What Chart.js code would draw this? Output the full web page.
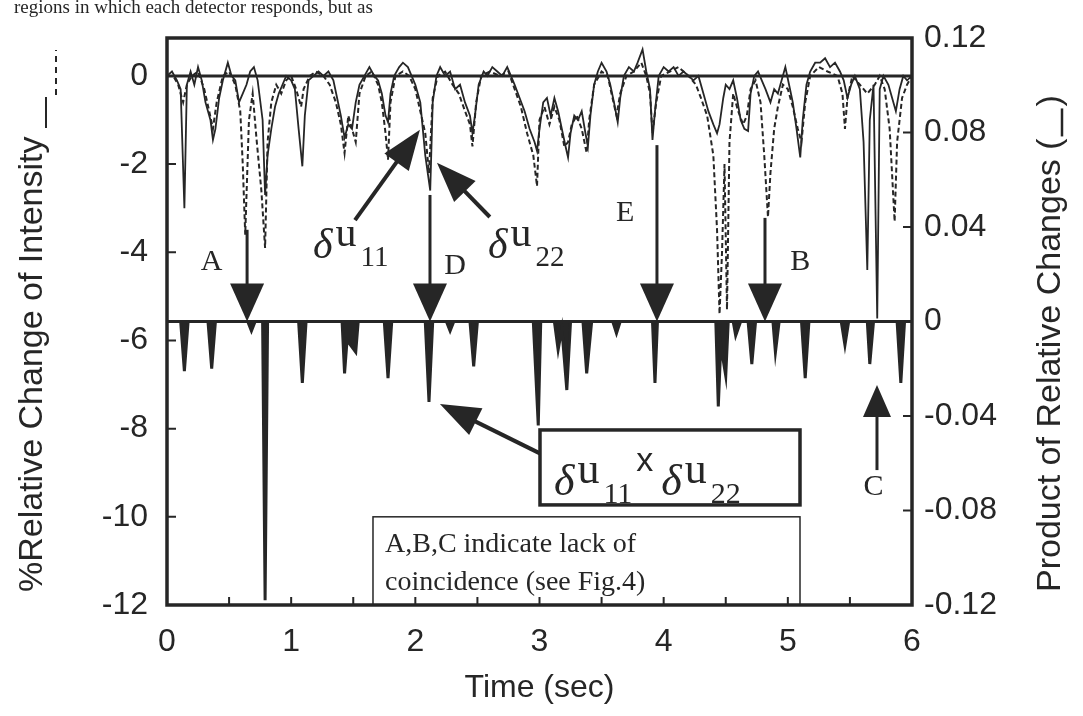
<!DOCTYPE html>
<html>
<head>
<meta charset="utf-8">
<script src="https://cdn.jsdelivr.net/npm/chart.js@4.4.1/dist/chart.umd.min.js"></script>
<style>
  html, body { margin: 0; padding: 0; background: #fff; }
  #wrap { width: 1083px; height: 716px; }
</style>
</head>
<body>
<div id="wrap"><canvas id="chart" width="1083" height="716"></canvas></div>
<script>
// axis ticks
const timeTicks = [0, 1, 2, 3, 4, 5, 6];
const leftTicks = [-12, -10, -8, -6, -4, -2, 0];
const rightTicks = [-0.12, -0.08, -0.04, 0, 0.04, 0.08, 0.12];

// du11 (solid), % relative change of intensity
const u11Time = [0.00,0.04,0.08,0.11,0.14,0.16,0.19,0.22,0.25,0.28,0.31,0.35,0.37,0.39,0.42,0.45,0.49,0.52,0.55,0.58,
  0.61,0.64,0.67,0.70,0.73,0.77,0.79,0.81,0.84,0.87,0.90,0.93,0.96,1.00,1.03,1.06,1.09,1.11,1.14,1.18,
  1.22,1.26,1.30,1.34,1.37,1.40,1.43,1.46,1.49,1.52,1.55,1.59,1.63,1.67,1.70,1.73,1.76,1.78,1.80,1.83,
  1.87,1.90,1.94,1.97,2.00,2.04,2.08,2.12,2.14,2.17,2.20,2.24,2.28,2.32,2.36,2.40,2.44,2.46,2.48,2.51,
  2.55,2.58,2.62,2.66,2.70,2.74,2.77,2.80,2.84,2.88,2.92,2.96,2.98,3.00,3.03,3.06,3.09,3.12,3.15,3.18,
  3.21,3.23,3.25,3.28,3.31,3.34,3.37,3.39,3.41,3.44,3.47,3.50,3.54,3.57,3.60,3.63,3.65,3.68,3.72,3.76,
  3.79,3.83,3.86,3.89,3.91,3.93,3.96,4.00,4.04,4.08,4.12,4.16,4.20,4.24,4.28,4.32,4.36,4.40,4.43,4.45,
  4.48,4.50,4.53,4.56,4.59,4.62,4.65,4.68,4.70,4.73,4.76,4.79,4.82,4.86,4.89,4.92,4.95,4.98,5.01,5.04,
  5.07,5.10,5.12,5.15,5.18,5.22,5.26,5.30,5.34,5.38,5.42,5.45,5.48,5.51,5.54,5.58,5.61,5.64,5.66,5.69,
  5.72,5.74,5.77,5.81,5.84,5.87,5.90,5.93,5.96,6.00];
const u11Vals = [0.0,0.1,-0.1,-0.3,-3.0,-0.2,0.1,-0.2,0.2,-0.1,-0.6,-1.0,-1.45,-1.2,-0.5,-0.1,0.3,0.0,-0.1,-0.6,
  -0.4,-0.2,0.1,0.2,-0.1,-1.0,-2.7,-1.8,-1.2,-0.7,-0.4,-0.2,0.0,-0.1,-0.3,-1.2,-2.05,-0.9,-0.1,0.0,
  0.1,0.0,0.1,-0.1,-0.5,-0.9,-1.4,-1.1,-1.2,-0.6,-0.2,0.0,0.2,0.0,-0.1,-0.4,-0.9,-1.05,-0.4,0.0,
  0.2,0.3,0.2,0.0,-0.2,-0.6,-1.8,-2.6,-0.6,0.0,0.2,0.0,0.1,-0.3,-0.2,-0.6,-0.9,-1.3,-0.9,-0.2,
  0.1,0.0,0.2,0.1,0.0,0.2,0.0,-0.2,-0.5,-0.8,-1.2,-1.5,-1.7,-1.2,-0.6,-0.5,-0.9,-0.5,-0.8,-1.2,
  -1.6,-1.85,-1.3,-0.9,-1.0,-0.8,-1.3,-1.6,-0.9,-0.2,0.1,0.3,0.1,-0.2,-0.6,-1.05,-0.5,0.0,0.2,0.1,
  0.3,0.6,0.1,-0.3,-1.45,-0.8,0.0,0.2,0.1,0.2,0.0,0.1,0.0,-0.1,0.0,-0.4,-0.8,-1.1,-1.3,-1.1,
  -0.5,-0.2,-0.3,-0.1,-0.5,-1.0,-1.2,-1.25,-0.4,0.0,0.1,-0.1,-0.3,-0.6,-0.3,-0.4,-0.1,0.2,-0.2,-0.6,
  -1.2,-1.85,-1.0,-0.2,0.1,0.3,0.3,0.4,0.2,0.3,0.1,-0.1,-0.5,-0.2,0.0,-0.3,-1.5,-4.4,-1.0,-0.2,
  -5.5,-0.3,0.0,-0.2,-0.5,-0.8,-0.3,0.0,-0.1,0.0];

// du22 (dashed), % relative change of intensity
const u22Time = [0.00,0.05,0.09,0.13,0.16,0.20,0.25,0.30,0.34,0.37,0.40,0.45,0.50,0.55,0.59,0.61,0.63,0.66,0.69,0.72,
  0.76,0.79,0.81,0.84,0.88,0.92,0.96,1.00,1.04,1.08,1.10,1.15,1.20,1.26,1.31,1.36,1.40,1.43,1.46,1.49,
  1.52,1.55,1.60,1.65,1.70,1.73,1.76,1.78,1.80,1.84,1.90,1.95,2.00,2.04,2.08,2.11,2.14,2.18,2.24,2.30,
  2.35,2.40,2.44,2.46,2.49,2.53,2.60,2.68,2.75,2.80,2.85,2.90,2.95,2.98,3.00,3.04,3.08,3.12,3.16,3.20,
  3.23,3.26,3.30,3.34,3.38,3.40,3.44,3.50,3.55,3.58,3.62,3.65,3.70,3.76,3.82,3.86,3.89,3.91,3.94,3.98,
  4.05,4.12,4.20,4.26,4.30,4.35,4.40,4.43,4.45,4.47,4.49,4.51,4.53,4.56,4.60,4.64,4.67,4.70,4.74,4.78,
  4.81,4.84,4.86,4.89,4.92,4.96,5.00,5.04,5.08,5.11,5.14,5.18,5.25,5.32,5.40,5.44,5.46,5.48,5.52,5.58,
  5.64,5.70,5.74,5.78,5.82,5.86,5.88,5.92,5.96,6.00];
const u22Vals = [0.0,0.0,-0.2,-0.6,-0.2,0.0,0.1,-0.3,-0.8,-1.2,-0.6,0.0,0.1,-0.2,-0.8,-2.0,-3.6,-1.0,-0.4,-1.4,
  -2.6,-3.9,-1.5,-0.6,-0.2,-0.4,-0.1,0.0,-0.3,-0.7,-0.3,0.0,0.1,0.0,-0.2,-0.6,-1.1,-1.75,-0.9,-1.2,
  -1.5,-0.4,0.0,0.1,-0.2,-0.6,-1.3,-1.9,-0.6,0.0,0.1,0.0,-0.3,-0.8,-1.3,-2.2,-0.5,0.0,0.1,-0.2,
  -0.4,-0.8,-1.1,-1.6,-0.6,0.0,0.1,0.0,0.1,-0.3,-0.7,-1.3,-1.8,-2.5,-1.0,-0.7,-1.1,-0.7,-1.0,-1.6,
  -1.5,-1.1,-0.9,-1.2,-1.75,-1.0,-0.2,0.1,0.0,-0.4,-0.9,-0.4,0.0,0.1,0.3,0.0,-0.4,-1.3,-0.6,0.0,
  0.1,0.2,0.0,-0.2,-0.5,-0.9,-1.8,-3.5,-5.4,-4.0,-2.0,-5.3,-1.5,-0.4,-0.8,-1.1,-0.9,-0.3,-0.1,-0.6,
  -1.8,-3.2,-2.2,-1.2,-0.7,-0.2,-0.3,-0.7,-1.2,-1.5,-0.6,0.0,0.2,0.1,0.0,-0.4,-1.2,-0.5,0.0,-0.2,
  -0.4,-0.2,0.0,-0.3,-1.2,-3.3,-1.5,-0.5,-0.2,0.0];

// du11 x du22, product of relative changes (right axis)
const prodTime = [0.00,0.11,0.14,0.17,0.33,0.36,0.39,0.65,0.68,0.71,0.77,0.79,0.81,1.06,1.09,1.12,1.41,1.43,1.45,1.52,
  1.54,1.75,1.78,1.81,2.08,2.11,2.14,2.25,2.28,2.31,2.44,2.47,2.50,2.95,2.99,3.01,3.12,3.15,3.18,3.22,
  3.25,3.35,3.38,3.42,3.59,3.62,3.65,3.91,3.93,3.95,4.42,4.44,4.46,4.50,4.52,4.56,4.58,4.62,4.68,4.71,
  4.74,4.88,4.90,4.93,5.11,5.14,5.17,5.43,5.46,5.49,5.64,5.66,5.69,5.88,5.91,5.94,6.00];
const prodVals = [0,0,-0.021,0,0,-0.020,0,0,-0.004,0,0,-0.118,0,0,-0.026,0,0,-0.022,-0.008,-0.013,
  0,0,-0.024,0,0,-0.034,0,0,-0.004,0,0,-0.019,0,0,-0.044,0,0,-0.012,-0.003,-0.029,
  0,0,-0.022,0,0,-0.005,0,0,-0.026,0,0,-0.036,-0.010,-0.023,0,0,-0.006,0,0,-0.018,
  0,0,-0.013,0,0,-0.024,0,0,-0.010,0,0,-0.018,0,0,-0.026,0,0];

const ink = '#262626';
const sans = '"Liberation Sans", Arial, sans-serif';
const serif = '"Liberation Serif", "Times New Roman", serif';

function pts(ts, vs) { return ts.map((t, i) => ({ x: t, y: vs[i] })); }

function head(ctx, x, y, ang, len, half) {
  const c = Math.cos(ang), s = Math.sin(ang);
  ctx.beginPath();
  ctx.moveTo(x, y);
  ctx.lineTo(x - len * c + half * s, y - len * s - half * c);
  ctx.lineTo(x - len * c - half * s, y - len * s + half * c);
  ctx.closePath();
  ctx.fill();
}
function arrow(ctx, x0, y0, x1, y1, len, half, w) {
  const a = Math.atan2(y1 - y0, x1 - x0);
  ctx.lineWidth = w;
  ctx.beginPath();
  ctx.moveTo(x0, y0);
  ctx.lineTo(x1 - len * 0.8 * Math.cos(a), y1 - len * 0.8 * Math.sin(a));
  ctx.stroke();
  head(ctx, x1, y1, a, len, half);
}
function deltaU(ctx, x, y, sub, size) {
  ctx.textAlign = 'left';
  ctx.textBaseline = 'alphabetic';
  ctx.font = 'italic ' + size + 'px ' + serif;
  ctx.fillText('δ', x, y);
  const w1 = ctx.measureText('δ').width;
  ctx.font = size + 'px ' + serif;
  ctx.fillText('u', x + w1 + 3, y - size * 0.28);
  const w2 = ctx.measureText('u').width;
  ctx.font = Math.round(size * 0.68) + 'px ' + serif;
  ctx.fillText(sub, x + w1 + w2 + 7, y + size * 0.18);
  return w1 + w2 + 7 + ctx.measureText(sub).width;
}

const decor = {
  id: 'decor',
  afterDatasetsDraw(chart) {
    const ctx = chart.ctx;
    const xs = chart.scales.x, ys = chart.scales.y, yr = chart.scales.y2;
    const a = chart.chartArea;
    const X = t => xs.getPixelForValue(t);
    const Y = v => ys.getPixelForValue(v);
    ctx.save();
    ctx.strokeStyle = ink;
    ctx.fillStyle = ink;

    // frame
    ctx.lineWidth = 3.5;
    ctx.strokeRect(a.left, a.top, a.right - a.left, a.bottom - a.top);

    // inward ticks
    ctx.lineWidth = 2;
    ctx.beginPath();
    for (let t = 0.5; t < 6; t += 0.5) { ctx.moveTo(X(t), a.bottom); ctx.lineTo(X(t), a.bottom - 8); }
    leftTicks.forEach(v => { ctx.moveTo(a.left, Y(v)); ctx.lineTo(a.left + 9, Y(v)); });
    rightTicks.forEach(v => { ctx.moveTo(a.right, yr.getPixelForValue(v)); ctx.lineTo(a.right - 9, yr.getPixelForValue(v)); });
    ctx.stroke();

    // down arrows A, D, E, B to the product baseline
    const base = yr.getPixelForValue(0);
    [[0.645, -3.49], [2.118, -2.7], [3.946, -1.57], [4.816, -3.22]].forEach(([t, v]) => {
      arrow(ctx, X(t), Y(v), X(t), base, 38, 17, 3);
    });
    // up arrow C
    arrow(ctx, X(5.718), Y(-8.94), X(5.718), Y(-7.01), 32, 14, 3);

    // letters
    ctx.font = '30px ' + serif;
    ctx.textAlign = 'center';
    ctx.textBaseline = 'middle';
    [['A', 0.36, -4.22], ['D', 2.32, -4.31], ['E', 3.69, -3.11], ['B', 5.10, -4.22], ['C', 5.69, -9.32]].forEach(([s, t, v]) => {
      ctx.fillText(s, X(t), Y(v));
    });

    // pointer arrows
    arrow(ctx, X(1.514), Y(-3.27), X(2.037), Y(-1.22), 40, 15, 4);
    arrow(ctx, X(2.6), Y(-3.2), X(2.174), Y(-1.97), 40, 15, 4);
    arrow(ctx, X(3.06), Y(-8.64), X(2.198), Y(-7.44), 40, 15, 4);

    // du labels
    deltaU(ctx, X(1.176), Y(-4.13), '11', 42);
    deltaU(ctx, X(2.585), Y(-4.13), '22', 42);

    // product box
    const bx0 = X(3.004), by0 = Y(-8.03), bx1 = X(5.098), by1 = Y(-9.73);
    ctx.fillStyle = '#fff';
    ctx.fillRect(bx0, by0, bx1 - bx0, by1 - by0);
    ctx.fillStyle = ink;
    ctx.lineWidth = 3.5;
    ctx.strokeRect(bx0, by0, bx1 - bx0, by1 - by0);
    let w = deltaU(ctx, bx0 + 14, by1 - 10, '11', 44);
    ctx.font = '34px ' + sans;
    ctx.fillText('x', bx0 + 14 + w + 4, by1 - 34);
    const wx = ctx.measureText('x').width;
    deltaU(ctx, bx0 + 14 + w + wx + 12, by1 - 10, '22', 44);

    // note box
    const nx0 = X(1.659), ny0 = Y(-10.0), nx1 = X(5.098), ny1 = a.bottom;
    ctx.lineWidth = 1.5;
    ctx.strokeRect(nx0, ny0, nx1 - nx0, ny1 - ny0);
    ctx.font = '28px ' + serif;
    ctx.textAlign = 'left';
    ctx.textBaseline = 'alphabetic';
    ctx.fillText('A,B,C indicate lack of', nx0 + 12, ny0 + 35);
    ctx.fillText('coincidence (see Fig.4)', nx0 + 12, ny0 + 73);

    // axis titles
    ctx.font = '32px ' + sans;
    ctx.textAlign = 'center';
    ctx.fillText('Time (sec)', X(3), 697);

    ctx.save();
    ctx.translate(42, 592);
    ctx.rotate(-Math.PI / 2);
    ctx.font = '34px ' + sans;
    ctx.textAlign = 'left';
    ctx.fillText('%Relative Change of Intensity', 0, 0);
    ctx.restore();
    ctx.lineWidth = 2;
    ctx.beginPath(); ctx.moveTo(46, 128); ctx.lineTo(46, 97); ctx.stroke();
    ctx.setLineDash([6, 5]);
    ctx.beginPath(); ctx.moveTo(56, 95); ctx.lineTo(56, 50); ctx.stroke();
    ctx.setLineDash([]);

    ctx.save();
    ctx.translate(1060, 592);
    ctx.rotate(-Math.PI / 2);
    ctx.font = '34px ' + sans;
    ctx.textAlign = 'left';
    const tw = ctx.measureText('Product of Relative Changes (').width;
    ctx.fillText('Product of Relative Changes (', 0, 0);
    ctx.lineWidth = 2.5;
    ctx.beginPath(); ctx.moveTo(tw + 2, 2); ctx.lineTo(tw + 30, 2); ctx.stroke();
    ctx.fillText(')', tw + 32, 0);
    ctx.restore();

    // clipped text line at the top of the scan
    ctx.font = '19px ' + serif;
    ctx.textAlign = 'left';
    ctx.fillText('regions in which each detector responds, but as', 14, 13);

    ctx.restore();
  }
};

new Chart(document.getElementById('chart'), {
  type: 'line',
  data: {
    datasets: [
      { label: 'zero', data: pts([0, 6], [0, 0]), yAxisID: 'y', borderColor: ink, borderWidth: 3, pointRadius: 0 },
      { label: 'zero product', data: pts([0, 6], [0, 0]), yAxisID: 'y2', borderColor: ink, borderWidth: 3, pointRadius: 0 },
      { label: 'du11', data: pts(u11Time, u11Vals), yAxisID: 'y', borderColor: ink, borderWidth: 1.8, pointRadius: 0 },
      { label: 'du22', data: pts(u22Time, u22Vals), yAxisID: 'y', borderColor: ink, borderWidth: 2, borderDash: [5, 3], pointRadius: 0 },
      { label: 'du11 x du22', data: pts(prodTime, prodVals), yAxisID: 'y2', borderColor: ink, borderWidth: 3,
        fill: 'origin', backgroundColor: ink, pointRadius: 0 }
    ]
  },
  options: {
    responsive: false,
    animation: false,
    devicePixelRatio: 1,
    layout: { padding: { top: 38, left: 0, right: 0, bottom: 0 } },
    plugins: { legend: { display: false }, tooltip: { enabled: false } },
    elements: { line: { tension: 0 } },
    scales: {
      x: {
        type: 'linear', min: 0, max: 6,
        grid: { display: false }, border: { display: false },
        afterBuildTicks: s => { s.ticks = timeTicks.map(v => ({ value: v })); },
        afterFit: s => { s.height = 111; },
        ticks: { font: { family: sans, size: 32 }, color: ink, padding: 10, maxRotation: 0, autoSkip: false }
      },
      y: {
        position: 'left', min: -12, max: 0.86,
        grid: { display: false }, border: { display: false },
        afterBuildTicks: s => { s.ticks = leftTicks.map(v => ({ value: v })); },
        afterFit: s => { s.width = 167; },
        ticks: { font: { family: sans, size: 32 }, color: ink, padding: 11, autoSkip: false, callback: v => String(v) }
      },
      y2: {
        position: 'right', min: -0.12, max: 0.12,
        grid: { display: false }, border: { display: false },
        afterBuildTicks: s => { s.ticks = rightTicks.map(v => ({ value: v })); },
        afterFit: s => { s.width = 171; },
        ticks: { font: { family: sans, size: 32 }, color: ink, padding: 4, autoSkip: false,
          callback: v => (Math.abs(v) < 1e-9 ? '0' : v.toFixed(2)) }
      }
    }
  },
  plugins: [decor]
});
</script>
</body>
</html>
